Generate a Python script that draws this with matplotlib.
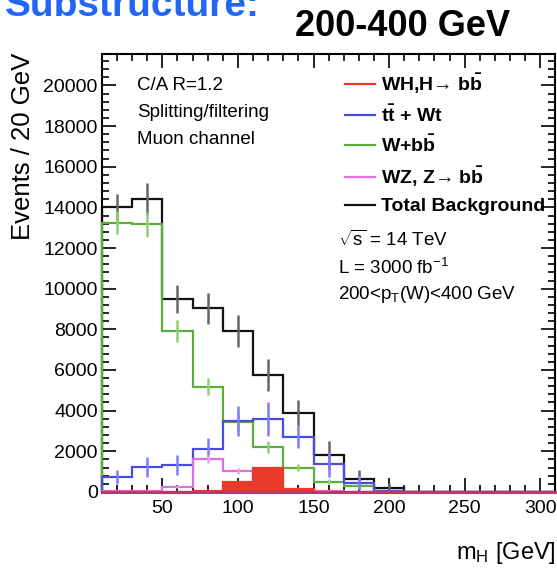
import numpy as np
import matplotlib.pyplot as plt
from matplotlib.lines import Line2D

plt.rcParams['font.family'] = ['Liberation Sans', 'DejaVu Sans']
plt.rcParams['mathtext.fontset'] = 'custom'
plt.rcParams['mathtext.rm'] = 'Liberation Sans'
plt.rcParams['mathtext.bf'] = 'Liberation Sans:bold'
plt.rcParams['mathtext.it'] = 'Liberation Sans:italic'
plt.rcParams['mathtext.default'] = 'regular'

# m_H bins, 20 GeV wide
edges = [10, 30, 50, 70, 90, 110, 130, 150, 170, 190, 210, 230, 250, 270, 290, 310]

# events per bin
total = [14000, 14400, 9480, 9030, 7920, 5750, 3880, 1815, 610, 170, 0, 0, 0, 0, 0]
total_err = [680, 780, 680, 760, 780, 780, 640, 690, 470, 250, 0, 0, 0, 0, 0]
wbb = [13240, 13160, 7920, 5170, 3450, 2225, 1200, 505, 295, 30, 0, 0, 0, 0, 0]
wbb_err = [570, 610, 530, 420, 450, 300, 150, 130, 100, 30, 0, 0, 0, 0, 0]
ttbar = [750, 1210, 1325, 2100, 3500, 3585, 2715, 1360, 450, 40, 0, 0, 0, 0, 0]
ttbar_err = [340, 490, 490, 550, 735, 820, 540, 610, 370, 60, 0, 0, 0, 0, 0]
wz = [30, 60, 260, 1620, 1040, 300, 80, 20, 0, 0, 0, 0, 0, 0, 0]
wz_err = [20, 40, 80, 200, 150, 100, 40, 10, 0, 0, 0, 0, 0, 0, 0]
signal = [0, 5, 10, 40, 480, 1160, 120, 10, 0, 0, 0, 0, 0, 0, 0]

c_sig = '#ea3b2a'
c_tt = '#4b4bdf'
c_wbb = '#5cae3c'
c_wz = '#df6ee0'
c_tot = '#111111'

fig = plt.figure(figsize=(5.57, 5.68), dpi=100)
ax = fig.add_axes([0.183, 0.134, 0.814, 0.771])

edges = np.array(edges)
centers = 0.5 * (edges[1:] + edges[:-1])


def hist(vals, errs, color, ecolor, z):
    vals = np.array(vals, dtype=float)
    ax.stairs(vals, edges, color=color, lw=1.6, zorder=z, clip_on=False)
    if errs is not None:
        errs = np.array(errs, dtype=float)
        m = vals > 0
        ax.errorbar(centers[m], vals[m], yerr=errs[m], fmt='none',
                    ecolor=ecolor, elinewidth=1.8, capsize=0, zorder=z)


hist(total, total_err, c_tot, '#666666', 2)
hist(wbb, wbb_err, c_wbb, '#8fd070', 3)
hist(ttbar, ttbar_err, c_tt, '#7d7dff', 4)
hist(wz, wz_err, c_wz, '#eaa0ea', 5)
ax.stairs(signal, edges, fill=True, color=c_sig, zorder=6)
ax.stairs(signal, edges, color=c_sig, lw=1.6, zorder=6, clip_on=False)
# zero line where all samples overlap
ax.axhline(0, color='#b83a6a', lw=2.2, zorder=7, clip_on=False)

ax.set_xlim(10, 310)
ax.set_ylim(0, 21550)
ax.set_xticks([50, 100, 150, 200, 250, 300])
ax.set_xticks(np.arange(20, 310, 10), minor=True)
ax.set_yticks(np.arange(0, 20001, 2000))
ax.set_yticks(np.arange(0, 21500, 400), minor=True)
ax.tick_params(which='both', direction='in', top=True, right=True, width=1.2,
               labelsize=14)
ax.tick_params(which='major', length=10)
ax.tick_params(which='minor', length=5)
ax.tick_params(axis='y', pad=3)
ax.tick_params(axis='x', pad=6)
for s in ax.spines.values():
    s.set_linewidth(1.5)

fig.text(0.042, 1 - 53 / 568, 'Events / 20 GeV', rotation=90, ha='center',
         va='top', fontsize=18.5)
fig.text(0.997, 1 - 553 / 568, r'm$_\mathregular{H}$ [GeV]', ha='right',
         va='center', fontsize=17)

fig.text(0.009, 1 - 16 / 568, 'Substructure:', color='#2266f5',
         fontsize=28, fontweight='bold', ha='left', va='baseline')
fig.text(0.53, 1 - 36 / 568, '200-400 GeV', fontsize=26, fontweight='bold',
         ha='left', va='baseline')

for i, t in enumerate(['C/A R=1.2', 'Splitting/filtering', 'Muon channel']):
    ax.text(0.077, 0.929 - i * 0.062, t, transform=ax.transAxes,
            fontsize=13.5, va='center', ha='left')

ax.text(0.521, 0.575, r'$\sqrt{s}$ = 14 TeV', transform=ax.transAxes,
        fontsize=13.5, va='center')
ax.text(0.521, 0.511, r'L = 3000 fb$^\mathregular{-1}$', transform=ax.transAxes,
        fontsize=13.5, va='center')
ax.text(0.521, 0.45, r'200<p$_\mathregular{T}$(W)<400 GeV',
        transform=ax.transAxes, fontsize=13.5, va='center')

handles = [Line2D([], [], color=c, lw=1.6) for c in [c_sig, c_tt, c_wbb, c_wz, c_tot]]
labels = [r'WH,H→ $\mathbf{b\bar{b}}$', r't$\mathbf{\bar{t}}$ + Wt',
          r'W+$\mathbf{b\bar{b}}$', r'WZ, Z→ $\mathbf{b\bar{b}}$',
          'Total Background']
ax.legend(handles, labels, loc='upper left', bbox_to_anchor=(345 / 557, 1 - 72 / 568),
          bbox_transform=fig.transFigure, frameon=False, borderpad=0,
          borderaxespad=0, handlelength=1.55, handletextpad=0.3,
          labelspacing=0.45, prop={'size': 14, 'weight': 'bold'})

fig.savefig('out.png', dpi=100)
